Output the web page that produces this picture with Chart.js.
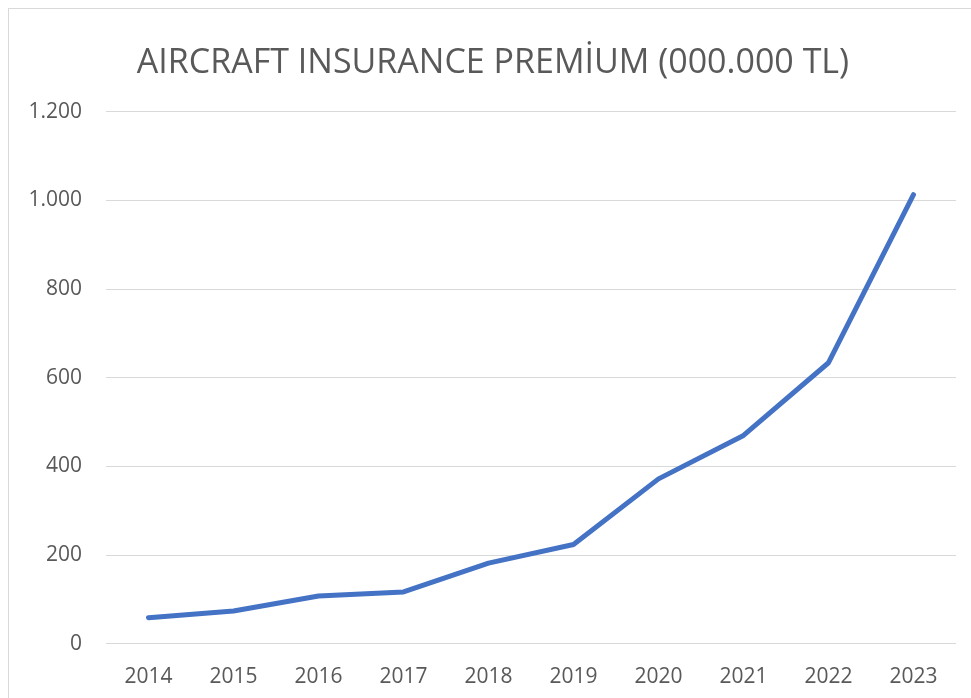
<!DOCTYPE html>
<html>
<head>
<meta charset="utf-8">
<script src="https://cdn.jsdelivr.net/npm/chart.js@4"></script>
<style>
  html, body { margin: 0; padding: 0; background: #fff; overflow: hidden; }
  #box {
    position: absolute; left: 8px; top: 8px;
    width: 975px; height: 716px;
    border: 1px solid #d9d9d9; background: #fff;
  }
</style>
</head>
<body>
<div id="box"><canvas id="premiumChart"></canvas></div>
<script>
// Yıllar ve prim değerleri (000.000 TL)
const years = ['2014', '2015', '2016', '2017', '2018', '2019', '2020', '2021', '2022', '2023'];
const premiums = [59, 74, 108, 117, 182, 224, 372, 470, 634, 1013];
const yTicks = [0, 200, 400, 600, 800, 1000, 1200];

const fmt = v => String(v).replace(/\B(?=(\d{3})+(?!\d))/g, '.');

const ctx = document.getElementById('premiumChart').getContext('2d');
new Chart(ctx, {
    type: 'line',
    data: {
        labels: years,
        datasets: [{
            label: 'Aircraft insurance premium',
            data: premiums,
            borderColor: '#4472C4',
            backgroundColor: '#4472C4',
            borderWidth: 5,
            borderCapStyle: 'round',
            borderJoinStyle: 'round',
            pointRadius: 0,
            tension: 0
        }]
    },
    options: {
        responsive: true,
        maintainAspectRatio: false,
        animation: false,
        layout: { padding: { left: 21, right: 28, top: 0, bottom: 14 } },
        plugins: {
            legend: { display: false },
            tooltip: { enabled: false },
            title: {
                display: true,
                text: 'AIRCRAFT INSURANCE PREMİUM (000.000 TL)',
                color: '#595959',
                font: { family: '"Open Sans", sans-serif', size: 34, weight: 'normal' },
                padding: { top: 34, bottom: 28 }
            }
        },
        scales: {
            x: {
                offset: true,
                grid: { display: false, drawTicks: false },
                border: { display: false },
                ticks: {
                    color: '#595959',
                    font: { family: '"Open Sans", sans-serif', size: 21 },
                    padding: 21,
                    maxRotation: 0
                }
            },
            y: {
                min: 0,
                max: 1200,
                afterBuildTicks: axis => { axis.ticks = yTicks.map(v => ({ value: v })); },
                afterFit: axis => { axis.width = 76; },
                grid: { color: '#d9d9d9', lineWidth: 1, drawTicks: false },
                border: { display: false },
                ticks: {
                    color: '#595959',
                    font: { family: '"Open Sans", sans-serif', size: 21 },
                    padding: 24,
                    callback: v => fmt(v)
                }
            }
        }
    }
});
</script>
</body>
</html>
